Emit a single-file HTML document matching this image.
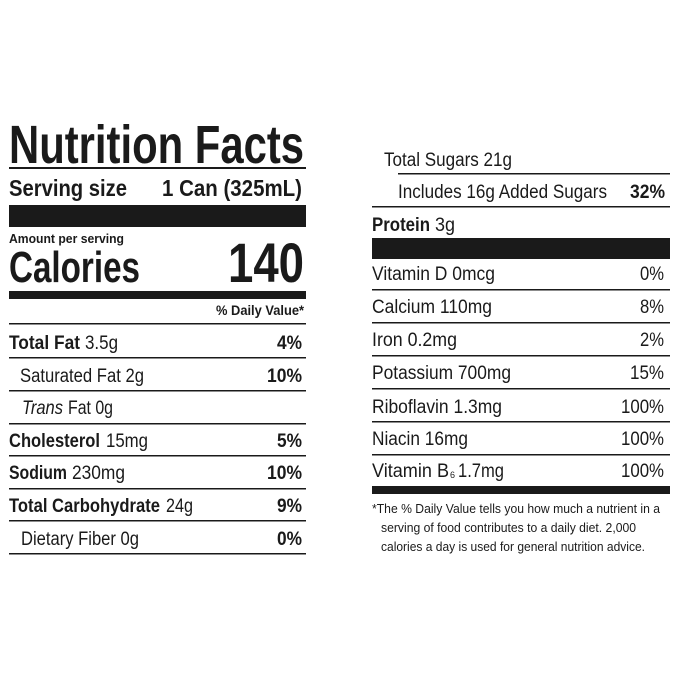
<!DOCTYPE html>
<html><head><meta charset="utf-8"><style>
html,body{margin:0;padding:0;background:#fff;}
svg{display:block;font-family:"Liberation Sans",sans-serif;fill:#1a1a1a;}
.b{font-weight:bold}
</style></head><body>
<svg width="679" height="679" viewBox="0 0 679 679" xmlns="http://www.w3.org/2000/svg">
<rect width="679" height="679" fill="#fff"/>
<g fill="#1a1a1a">
<text x="9" y="163" font-size="54" class="b" textLength="295" lengthAdjust="spacingAndGlyphs">Nutrition Facts</text>
<rect x="9" y="167" width="297" height="2"/>
<text x="9" y="196" font-size="23" class="b" textLength="118" lengthAdjust="spacingAndGlyphs">Serving size</text>
<text x="162" y="196" font-size="23" class="b" textLength="140" lengthAdjust="spacingAndGlyphs">1 Can (325mL)</text>
<rect x="9" y="205" width="297" height="22"/>
<text x="9" y="243" font-size="13" class="b" textLength="115" lengthAdjust="spacingAndGlyphs">Amount per serving</text>
<text x="9" y="282" font-size="44" class="b" textLength="131" lengthAdjust="spacingAndGlyphs">Calories</text>
<text x="228" y="282" font-size="56" class="b" textLength="76" lengthAdjust="spacingAndGlyphs">140</text>
<rect x="9" y="291" width="297" height="8"/>
<text x="216" y="315" font-size="14" class="b" textLength="88" lengthAdjust="spacingAndGlyphs">% Daily Value*</text>
<rect x="9" y="323" width="297" height="1.5"/>

<text x="9" y="349" font-size="19" class="b" textLength="71" lengthAdjust="spacingAndGlyphs">Total Fat</text>
<text x="85" y="349" font-size="19" textLength="33" lengthAdjust="spacingAndGlyphs">3.5g</text>
<text x="302" y="349" font-size="19" class="b" text-anchor="end" textLength="25" lengthAdjust="spacingAndGlyphs">4%</text>
<rect x="9" y="357" width="297" height="1.5"/>
<text x="20" y="382" font-size="19" textLength="124" lengthAdjust="spacingAndGlyphs">Saturated Fat 2g</text>
<text x="302" y="382" font-size="19" class="b" text-anchor="end" textLength="35" lengthAdjust="spacingAndGlyphs">10%</text>
<rect x="9" y="390" width="297" height="1.5"/>
<text x="22" y="414" font-size="19" font-style="italic" textLength="41" lengthAdjust="spacingAndGlyphs">Trans</text>
<text x="68" y="414" font-size="19" textLength="45" lengthAdjust="spacingAndGlyphs">Fat 0g</text>
<rect x="9" y="423" width="297" height="1.5"/>
<text x="9" y="447" font-size="19" class="b" textLength="91" lengthAdjust="spacingAndGlyphs">Cholesterol</text>
<text x="106" y="447" font-size="19" textLength="42" lengthAdjust="spacingAndGlyphs">15mg</text>
<text x="302" y="447" font-size="19" class="b" text-anchor="end" textLength="25" lengthAdjust="spacingAndGlyphs">5%</text>
<rect x="9" y="455" width="297" height="1.5"/>
<text x="9" y="479" font-size="19" class="b" textLength="58" lengthAdjust="spacingAndGlyphs">Sodium</text>
<text x="72" y="479" font-size="19" textLength="53" lengthAdjust="spacingAndGlyphs">230mg</text>
<text x="302" y="479" font-size="19" class="b" text-anchor="end" textLength="35" lengthAdjust="spacingAndGlyphs">10%</text>
<rect x="9" y="488" width="297" height="1.5"/>
<text x="9" y="512" font-size="19" class="b" textLength="151" lengthAdjust="spacingAndGlyphs">Total Carbohydrate</text>
<text x="166" y="512" font-size="19" textLength="27" lengthAdjust="spacingAndGlyphs">24g</text>
<text x="302" y="512" font-size="19" class="b" text-anchor="end" textLength="25" lengthAdjust="spacingAndGlyphs">9%</text>
<rect x="9" y="520" width="297" height="1.5"/>
<text x="21" y="545" font-size="19" textLength="118" lengthAdjust="spacingAndGlyphs">Dietary Fiber 0g</text>
<text x="302" y="545" font-size="19" class="b" text-anchor="end" textLength="25" lengthAdjust="spacingAndGlyphs">0%</text>
<rect x="9" y="553" width="297" height="1.5"/>

<text x="384" y="166" font-size="19" textLength="128" lengthAdjust="spacingAndGlyphs">Total Sugars 21g</text>
<rect x="398" y="173" width="272" height="1.5"/>
<text x="398" y="198" font-size="19" textLength="209" lengthAdjust="spacingAndGlyphs">Includes 16g Added Sugars</text>
<text x="665" y="198" font-size="19" class="b" text-anchor="end" textLength="35" lengthAdjust="spacingAndGlyphs">32%</text>
<rect x="372" y="206" width="298" height="1.5"/>
<text x="372" y="231" font-size="19" class="b" textLength="58" lengthAdjust="spacingAndGlyphs">Protein</text>
<text x="435" y="231" font-size="19" textLength="20" lengthAdjust="spacingAndGlyphs">3g</text>
<rect x="372" y="238" width="298" height="21"/>
<text x="372" y="280" font-size="19" textLength="123" lengthAdjust="spacingAndGlyphs">Vitamin D 0mcg</text>
<text x="664" y="280" font-size="19" text-anchor="end" textLength="24" lengthAdjust="spacingAndGlyphs">0%</text>
<rect x="372" y="289" width="298" height="1.5"/>
<text x="372" y="313" font-size="19" textLength="120" lengthAdjust="spacingAndGlyphs">Calcium 110mg</text>
<text x="664" y="313" font-size="19" text-anchor="end" textLength="24" lengthAdjust="spacingAndGlyphs">8%</text>
<rect x="372" y="322" width="298" height="1.5"/>
<text x="372" y="346" font-size="19" textLength="85" lengthAdjust="spacingAndGlyphs">Iron 0.2mg</text>
<text x="664" y="346" font-size="19" text-anchor="end" textLength="24" lengthAdjust="spacingAndGlyphs">2%</text>
<rect x="372" y="355" width="298" height="1.5"/>
<text x="372" y="379" font-size="19" textLength="139" lengthAdjust="spacingAndGlyphs">Potassium 700mg</text>
<text x="664" y="379" font-size="19" text-anchor="end" textLength="34" lengthAdjust="spacingAndGlyphs">15%</text>
<rect x="372" y="388" width="298" height="1.5"/>
<text x="372" y="413" font-size="19" textLength="130" lengthAdjust="spacingAndGlyphs">Riboflavin 1.3mg</text>
<text x="664" y="413" font-size="19" text-anchor="end" textLength="43" lengthAdjust="spacingAndGlyphs">100%</text>
<rect x="372" y="421" width="298" height="1.5"/>
<text x="372" y="445" font-size="19" textLength="96" lengthAdjust="spacingAndGlyphs">Niacin 16mg</text>
<text x="664" y="445" font-size="19" text-anchor="end" textLength="43" lengthAdjust="spacingAndGlyphs">100%</text>
<rect x="372" y="454" width="298" height="1.5"/>
<text x="372" y="477" font-size="19" textLength="77" lengthAdjust="spacingAndGlyphs">Vitamin B</text>
<text x="450" y="478" font-size="9">6</text>
<text x="458" y="477" font-size="19" textLength="46" lengthAdjust="spacingAndGlyphs">1.7mg</text>
<text x="664" y="477" font-size="19" text-anchor="end" textLength="43" lengthAdjust="spacingAndGlyphs">100%</text>
<rect x="372" y="486" width="298" height="8"/>
<text x="372" y="513" font-size="13" textLength="288" lengthAdjust="spacingAndGlyphs">*The % Daily Value tells you how much a nutrient in a</text>
<text x="381" y="532" font-size="13" textLength="255" lengthAdjust="spacingAndGlyphs">serving of food contributes to a daily diet. 2,000</text>
<text x="381" y="551" font-size="13" textLength="264" lengthAdjust="spacingAndGlyphs">calories a day is used for general nutrition advice.</text>
</g>
</svg>
</body></html>
